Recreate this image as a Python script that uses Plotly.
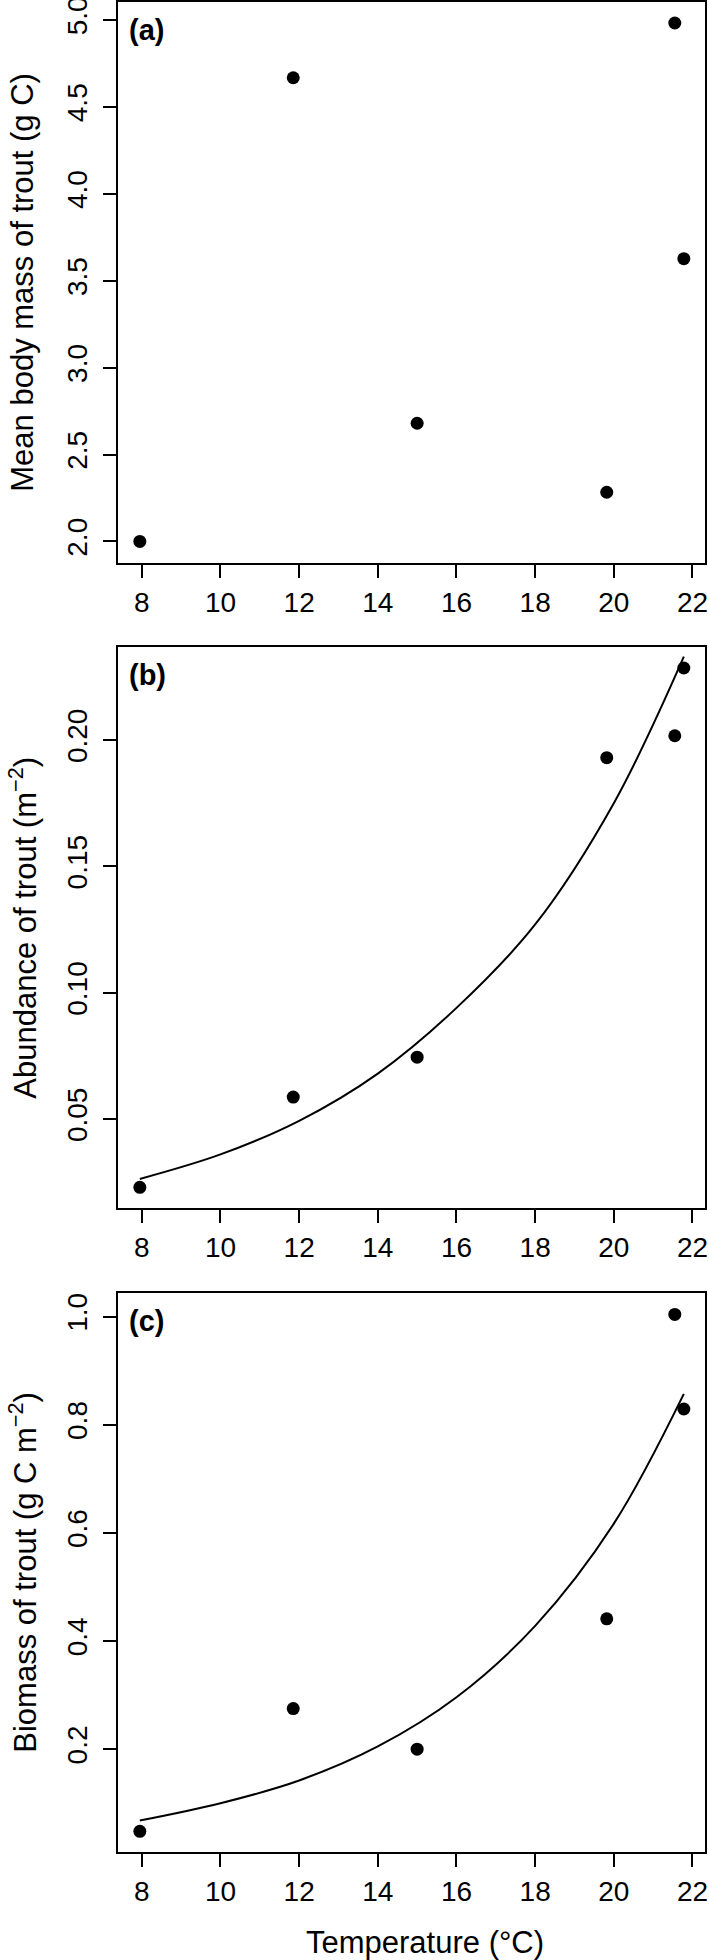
import plotly.graph_objects as go

# ---- data ----
temperature = [7.95, 11.85, 15.0, 19.82, 21.55, 21.78]
mean_mass = [2.0, 4.668, 2.68, 2.283, 4.983, 3.627]
abundance = [0.023, 0.0587, 0.0745, 0.193, 0.2017, 0.2285]
biomass = [0.048, 0.275, 0.2, 0.441, 1.004, 0.829]

fit_x = [7.95, 10, 12, 14, 16, 18, 20, 21.78]
abund_fit = [0.0263, 0.036, 0.0493, 0.068, 0.094, 0.127, 0.175, 0.233]
biomass_fit = [0.068, 0.1, 0.142, 0.205, 0.296, 0.428, 0.617, 0.857]

x_ticks = [8, 10, 12, 14, 16, 18, 20, 22]
a_ticks = [2.0, 2.5, 3.0, 3.5, 4.0, 4.5, 5.0]
a_labels = ["2.0", "2.5", "3.0", "3.5", "4.0", "4.5", "5.0"]
b_ticks = [0.05, 0.10, 0.15, 0.20]
b_labels = ["0.05", "0.10", "0.15", "0.20"]
c_ticks = [0.2, 0.4, 0.6, 0.8, 1.0]
c_labels = ["0.2", "0.4", "0.6", "0.8", "1.0"]

panel_tags = ["(a)", "(b)", "(c)"]
y_titles = ["Mean body mass of trout (g C)",
            "Abundance of trout (m<sup>−2</sup>)",
            "Biomass of trout (g C m<sup>−2</sup>)"]

W, H = 709, 1960
L, R = 118, 3.5
# panel boxes in pixels (top, bottom)
boxes = [(2.3, 563.0), (647.3, 1208.0), (1293.3, 1852.0)]
y_ranges = [[1.876, 5.102], [0.0148, 0.2367], [0.0098, 1.043]]
x_range = [7.395, 22.318]

FONT = "Liberation Sans, Arial, sans-serif"

fig = go.Figure()
marker = dict(color="black", size=13, line=dict(width=0))

fig.add_trace(go.Scatter(x=temperature, y=mean_mass, mode="markers",
                         marker=marker, xaxis="x", yaxis="y", showlegend=False))
fig.add_trace(go.Scatter(x=fit_x, y=abund_fit, mode="lines",
                         line=dict(color="black", width=2, shape="spline"),
                         xaxis="x2", yaxis="y2", showlegend=False))
fig.add_trace(go.Scatter(x=temperature, y=abundance, mode="markers",
                         marker=marker, xaxis="x2", yaxis="y2", showlegend=False))
fig.add_trace(go.Scatter(x=fit_x, y=biomass_fit, mode="lines",
                         line=dict(color="black", width=2, shape="spline"),
                         xaxis="x3", yaxis="y3", showlegend=False))
fig.add_trace(go.Scatter(x=temperature, y=biomass, mode="markers",
                         marker=marker, xaxis="x3", yaxis="y3", showlegend=False))

layout = dict(
    width=W, height=H,
    margin=dict(l=L, r=R, t=0, b=0, autoexpand=False),
    paper_bgcolor="white", plot_bgcolor="white",
    font=dict(family=FONT, color="black"),
)

ytick_sets = [(a_ticks, a_labels), (b_ticks, b_labels), (c_ticks, c_labels)]
annotations = []
for i, (top, bot) in enumerate(boxes):
    sfx = "" if i == 0 else str(i + 1)
    dom = [1 - bot / H, 1 - top / H]
    layout["xaxis" + sfx] = dict(
        domain=[0, 1], range=x_range, anchor="y" + sfx,
        tickmode="array", tickvals=x_ticks, ticktext=[str(t) for t in x_ticks],
        ticks="outside", ticklen=13, tickwidth=2, tickcolor="black",
        showline=True, mirror=True, linewidth=2, linecolor="black",
        showgrid=False, zeroline=False, ticklabeloverflow="allow",
        tickfont=dict(size=28, family=FONT, color="black"),
    )
    tv, tt = ytick_sets[i]
    layout["yaxis" + sfx] = dict(
        domain=dom, range=y_ranges[i], anchor="x" + sfx,
        tickmode="array", tickvals=tv, ticktext=tt, tickangle=-90,
        ticks="outside", ticklen=13, tickwidth=2, tickcolor="black",
        showline=True, mirror=True, linewidth=2, linecolor="black",
        showgrid=False, zeroline=False, ticklabeloverflow="allow",
        ticklabelstandoff=5,
        tickfont=dict(size=28, family=FONT, color="black"),
    )
    annotations.append(dict(
        text="<b>" + panel_tags[i] + "</b>", xref="x" + sfx + " domain",
        yref="y" + sfx + " domain", x=0.016, y=1, yshift=-28,
        xanchor="left", yanchor="middle", showarrow=False,
        font=dict(size=29, family=FONT, color="black")))
    annotations.append(dict(
        text=y_titles[i], xref="paper", yref="y" + sfx + " domain",
        x=(23 - L) / (W - L - R), y=0.5, xanchor="center", yanchor="middle",
        textangle=-90, showarrow=False,
        font=dict(size=31, family=FONT, color="black")))

annotations.append(dict(
    text="Temperature (°C)", xref="paper", yref="paper",
    x=(425 - L) / (W - L - R), y=1 - 1942 / H, xanchor="center", yanchor="middle",
    showarrow=False, font=dict(size=31, family=FONT, color="black")))

layout["annotations"] = annotations
fig.update_layout(**layout)
fig.write_html(
    "out.html",
    config={"displayModeBar": False},
    post_script="document.body.style.margin='0';document.body.style.overflow='hidden';",
)
